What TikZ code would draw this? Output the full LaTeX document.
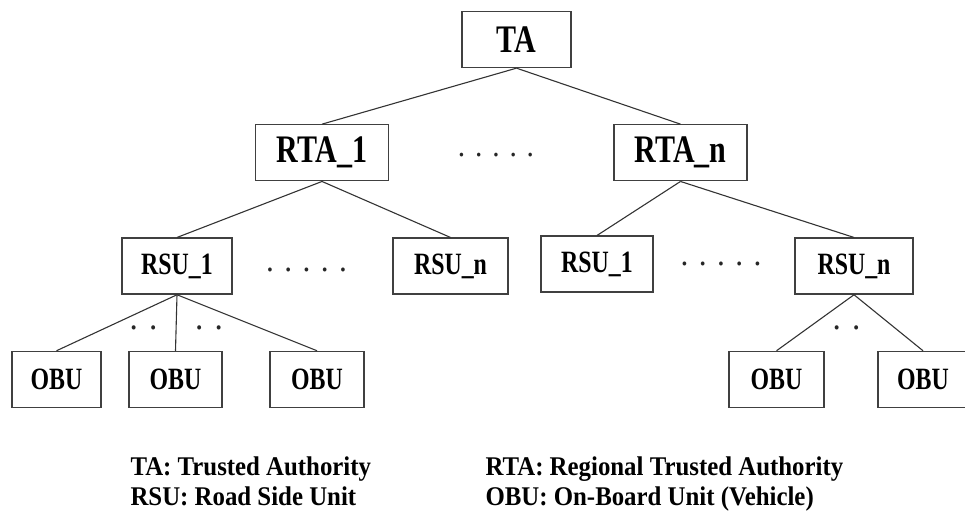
\documentclass[tikz,border=0pt]{standalone}
\usepackage{fontspec}
\setmainfont{Liberation Serif}[FakeStretch=0.92]
\newfontfamily\boxfont{Liberation Serif}[FakeStretch=0.77]
\usetikzlibrary{positioning}

\begin{document}
\begin{tikzpicture}[x=1pt,y=-1pt,node distance=56pt,
                    every edge/.style={draw=black!80,line width=1.1pt},
                    unit/.style={draw=black!75,line width=1.3pt,minimum height=56pt,inner sep=0pt},
                    big/.style={unit,font=\boxfont\bfseries\fontsize{39}{40}\selectfont},
                    small/.style={unit,font=\boxfont\bfseries\fontsize{31}{32}\selectfont},
                    dots/.style={anchor=base,text=black!85,font=\mdseries\fontsize{#1}{#1}\selectfont},
                    legend/.style={anchor=base west,font=\bfseries\fontsize{27}{30}\selectfont}]
\useasboundingbox (0,0) rectangle (965,517);
\node[big,minimum width=109pt] (ta) at (516.5,39.5) {TA};
\node[big,minimum width=133pt,below = of ta,xshift=-194.5pt] (rta1) {RTA\_1};
\node[big,minimum width=133pt,below = of ta,xshift=164pt] (rtan) {RTA\_n};
\node[small,minimum width=110pt,below = of rta1,xshift=-145pt] (rsu11) {RSU\_1};
\node[small,minimum width=115pt,below = of rta1,xshift=128.5pt] (rsu1n) {RSU\_n};
\node[small,minimum width=112pt,below = of rtan,xshift=-83.5pt,yshift=2pt] (rsun1) {RSU\_1};
\node[small,minimum width=118pt,below = of rtan,xshift=173.5pt] (rsunn) {RSU\_n};
\node[small,minimum width=89pt,below = of rsu11,xshift=-120.5pt] (obu11) {OBU};
\node[small,minimum width=93pt,below = of rsu11,xshift=-1.5pt] (obu12) {OBU};
\node[small,minimum width=94pt,below = of rsu11,xshift=140pt] (obu13) {OBU};
\node[small,minimum width=95pt,below = of rsunn,xshift=-77.5pt] (obun1) {OBU};
\node[small,minimum width=90pt,below = of rsunn,xshift=69pt] (obun2) {OBU};
\node[dots=32] (gap1) at (496,156) {. . . . .};
\node[dots=34] (gap2) at (306.5,271) {. . . . .};
\node[dots=34] (gap3) at (721,265) {. . . . .};
\node[dots=36] (gap4) at (143.5,329) {. .};
\node[dots=36] (gap5) at (209,329) {. .};
\node[dots=36] (gap6) at (846.5,329) {. .};
\path (ta.south) edge (rta1.north)
                 edge (rtan.north)
      (rta1.south) edge (rsu11.north)
                   edge (rsu1n.north)
      (rtan.south) edge (rsun1.north)
                   edge (rsunn.north)
      (rsu11.south) edge (obu11.north)
                    edge (obu12.north)
                    edge (obu13.north)
      (rsunn.south) edge (obun1.north)
                    edge (obun2.north);
\node[legend] (keyta) at (127,475) {TA: Trusted Authority};
\node[legend] (keyrsu) at (127,505) {RSU: Road Side Unit};
\node[legend] (keyrta) at (482,475) {RTA: Regional Trusted Authority};
\node[legend] (keyobu) at (482,505) {OBU: On-Board Unit (Vehicle)};
\end{tikzpicture}
\end{document}
